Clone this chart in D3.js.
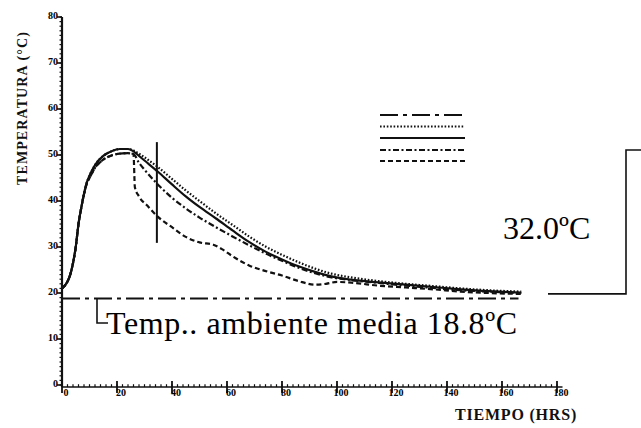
<!DOCTYPE html>
<html><head><meta charset="utf-8">
<script src="https://cdn.jsdelivr.net/npm/d3@7"></script>
<style>html,body{margin:0;padding:0;background:#fff;}svg{display:block;}</style>
</head><body><svg id="c" width="641" height="428"></svg>
<script>
// ---- data ----
const xTicks = [0,20,40,60,80,100,120,140,160,180];
const xTickLabels = ["0","20","40","60","80","100","120","140","160","180"];
const yTicks = [0,10,20,30,40,50,60,70,80];
const yTickLabels = ["0","10","20","30","40","50","60","70","80"];
const riseHours = [0,2,3,4,5,6,7,8,9,10,12,15,18,21,24];
const riseUpper = [21,22.5,24,26.5,30,35,38.5,41.5,44,45.5,47.8,49.8,50.8,51.3,51.3];
const riseLower = [21,22.5,24,26.5,30,35,38.5,41.5,43.8,45,47.2,49,49.9,50.3,50.4];
const dottedHours = [26,28,30,35,40,45,50,56,62,68,74,80,86,92,98,105,115,125,135,145,155,167];
const dottedVals  = [51,50.3,49.5,47.3,44.8,42.3,40,37.3,34.8,32.3,30.1,28.3,26.7,25.3,24.2,23.4,22.6,22,21.5,21,20.6,20.3];
const solidHours = [26,28,30,35,40,45,50,56,62,68,74,80,86,92,98,105,115,125,135,145,155,167];
const solidVals  = [50.8,49.8,48.8,46.3,43.6,41,38.7,36.2,33.6,31.1,29,27.3,25.8,24.6,23.6,22.9,22.3,21.8,21.3,20.8,20.4,20.1];
const dashDotHours = [26,28,30,35,40,45,50,56,62,68,74,80,86,92,98,105,115,125,135,145,155,167];
const dashDotVals  = [50.2,48.3,46.8,43.5,40.7,38.4,36.4,34.3,32.3,30.4,28.6,27,25.5,24.3,23.4,22.8,22.2,21.6,21.1,20.6,20.3,20];
const dashedHours = [26,26.5,28,31,35,40,45,50,55,58,62,68,75,80,86,92,96,100,106,115,125,135,145,155,167];
const dashedVals  = [50.2,43,41,39,36.5,34.3,32.2,31,30.5,29.6,28,26,24.6,23.8,22.6,21.8,22,22.4,22.2,21.6,21.2,20.8,20.3,20,19.8];
const ambientTemp = 18.8;
const ambientHours = [0,166];
const markerHour = 34.5, markerRange = [30.9,52.8];
const bracketTop = 51.1, bracketBottom = 19.8;
const ambientLabel = "Temp.. ambiente media 18.8ºC";
const rangeLabel = "32.0ºC";
const yTitle = "TEMPERATURA (°C)";
const xTitle = "TIEMPO (HRS)";

// ---- drawing ----
const svg = d3.select("#c");
const x = d3.scaleLinear().domain([0,180]).range([62,557]);
const y = d3.scaleLinear().domain([0,80]).range([385,17]);
const serif = "'Liberation Serif','Times New Roman',serif";

function series(hours, vals, rh, rv){
  const pts = [];
  if (rh) rh.forEach((h,i)=>pts.push([h,rv[i]]));
  hours.forEach((h,i)=>pts.push([h,vals[i]]));
  return pts;
}
const line = d3.line().x(d=>x(d[0])).y(d=>y(d[1])).curve(d3.curveMonotoneX);
const styles = {
  amb:"18,5,4,5", dotted:"1.6,1.8", solid:null, dashdot:"6,2.5,2,2.5", dashed:"5,3"
};
const curves = [
  {pts: series(dottedHours,dottedVals,riseHours,riseUpper), dash: styles.dotted},
  {pts: series(solidHours,solidVals,riseHours,riseUpper), dash: styles.solid},
  {pts: series(dashDotHours,dashDotVals,riseHours,riseLower), dash: styles.dashdot},
  {pts: series(dashedHours,dashedVals,riseHours,riseLower), dash: styles.dashed},
];
curves.forEach(c=>{
  svg.append("path").attr("d", line(c.pts)).attr("fill","none")
    .attr("stroke","#111").attr("stroke-width",2.2)
    .attr("stroke-dasharray", c.dash);
});

// ambient line
svg.append("line").attr("x1",x(ambientHours[0])).attr("x2",x(ambientHours[1]))
  .attr("y1",y(ambientTemp)).attr("y2",y(ambientTemp))
  .attr("stroke","#111").attr("stroke-width",2.2).attr("stroke-dasharray",styles.amb);

// marker
svg.append("line").attr("x1",x(markerHour)).attr("x2",x(markerHour))
  .attr("y1",y(markerRange[1])).attr("y2",y(markerRange[0]))
  .attr("stroke","#111").attr("stroke-width",2);

// axes
svg.append("line").attr("x1",x(0)).attr("x2",x(0)).attr("y1",y(80)).attr("y2",y(0)+2)
  .attr("stroke","#111").attr("stroke-width",2.2);
svg.append("line").attr("x1",x(0)).attr("x2",x(182)).attr("y1",y(0)+2).attr("y2",y(0)+2)
  .attr("stroke","#111").attr("stroke-width",1.5);
d3.range(0,80.1,1).forEach(v=>{
  svg.append("line").attr("x1",x(0)-2.5).attr("x2",x(0)).attr("y1",y(v)).attr("y2",y(v))
    .attr("stroke","#111").attr("stroke-width",1.2);
});
d3.range(0,182,2).forEach(h=>{
  svg.append("line").attr("x1",x(h)).attr("x2",x(h)).attr("y1",y(0)+2).attr("y2",y(0)-0.8)
    .attr("stroke","#111").attr("stroke-width",1.2);
});
xTicks.forEach((h,i)=>{
  svg.append("line").attr("x1",x(h)).attr("x2",x(h)).attr("y1",y(0)-4).attr("y2",y(0)+8)
    .attr("stroke","#111").attr("stroke-width",1.8);
  svg.append("text").attr("x",x(h)+4).attr("y",y(0)+11).attr("text-anchor","middle")
    .attr("font-family",serif).attr("font-weight","bold").attr("font-size",10)
    .attr("fill","#000").text(xTickLabels[i]);
});
yTicks.forEach((v,i)=>{
  svg.append("line").attr("x1",x(0)-5).attr("x2",x(0)).attr("y1",y(v)).attr("y2",y(v))
    .attr("stroke","#111").attr("stroke-width",1.6);
  svg.append("text").attr("x",x(0)-4).attr("y",y(v)+2).attr("text-anchor","end")
    .attr("font-family",serif).attr("font-weight","bold").attr("font-size",10)
    .attr("fill","#000").text(yTickLabels[i]);
});

// titles
svg.append("text").attr("transform","translate(27,108) rotate(-90)")
  .attr("text-anchor","middle").attr("font-family",serif).attr("font-size",14)
  .attr("font-weight","bold").attr("letter-spacing",1.1).attr("fill","#111").text(yTitle);
svg.append("text").attr("x",516).attr("y",420).attr("text-anchor","middle")
  .attr("font-family",serif).attr("font-size",16).attr("font-weight","bold")
  .attr("letter-spacing",0.8).attr("fill","#111").text(xTitle);

// legend
const legendDash = [styles.amb, styles.dotted, styles.solid, styles.dashdot, styles.dashed];
const legendY = [115,126.5,138,150,161];
legendDash.forEach((d,i)=>{
  svg.append("line").attr("x1",380).attr("x2",465).attr("y1",legendY[i]).attr("y2",legendY[i])
    .attr("stroke","#111").attr("stroke-width",2.2).attr("stroke-dasharray",d);
});

// ambient annotation
const ay = y(ambientTemp);
svg.append("path").attr("d",`M97,${ay}V323H108`).attr("fill","none")
  .attr("stroke","#111").attr("stroke-width",1.6);
svg.append("text").attr("x",106).attr("y",334).attr("font-family",serif)
  .attr("font-size",32).attr("fill","#000").attr("textLength",411).text(ambientLabel);

// right bracket
const by1 = y(bracketTop), by0 = y(bracketBottom);
svg.append("path").attr("d",`M548,${by0}H626V${by1}H641`).attr("fill","none")
  .attr("stroke","#111").attr("stroke-width",1.6);
svg.append("text").attr("x",503).attr("y",239).attr("font-family",serif)
  .attr("font-size",32).attr("fill","#000").text(rangeLabel);
</script></body></html>
